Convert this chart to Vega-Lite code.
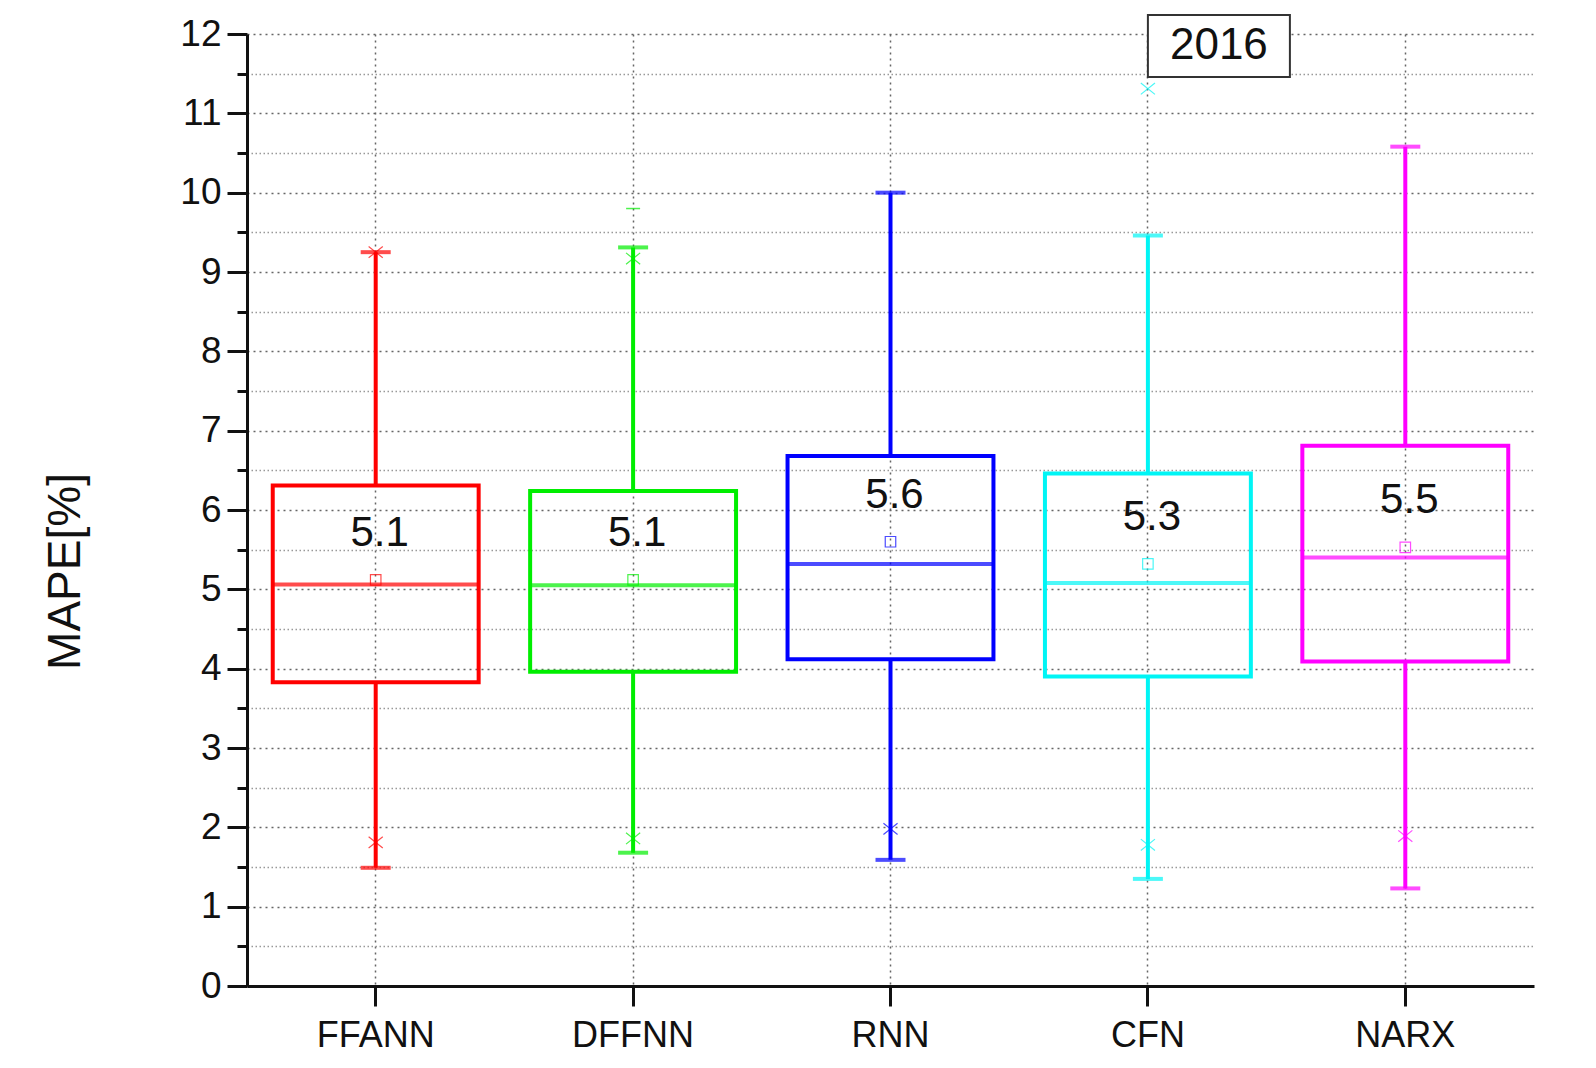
{
  "$schema": "https://vega.github.io/schema/vega-lite/v6.json",
  "autosize": "none",
  "padding": {"left": 247, "top": 34, "right": 62, "bottom": 82},
  "width": 1287,
  "height": 952,
  "background": "white",
  "config": {
    "view": {"stroke": null},
    "font": "Liberation Sans",
    "axis": {"labelFont": "Liberation Sans", "titleFont": "Liberation Sans", "labelColor": "#111", "titleColor": "#111"}
  },
  "datasets": {
    "stats": [
      {"model": "FFANN", "lo": 1.49, "q1": 3.83, "med": 5.06, "q3": 6.31, "hi": 9.25, "mean": 5.12, "p1": 1.81, "p99": 9.25, "max": null},
      {"model": "DFFNN", "lo": 1.68, "q1": 3.96, "med": 5.05, "q3": 6.24, "hi": 9.31, "mean": 5.12, "p1": 1.86, "p99": 9.17, "max": 9.8},
      {"model": "RNN", "lo": 1.59, "q1": 4.12, "med": 5.32, "q3": 6.68, "hi": 10.0, "mean": 5.6, "p1": 1.98, "p99": null, "max": null},
      {"model": "CFN", "lo": 1.35, "q1": 3.9, "med": 5.08, "q3": 6.46, "hi": 9.46, "mean": 5.32, "p1": 1.78, "p99": 11.31, "max": null},
      {"model": "NARX", "lo": 1.23, "q1": 4.09, "med": 5.4, "q3": 6.81, "hi": 10.58, "mean": 5.53, "p1": 1.89, "p99": null, "max": null}
    ],
    "note": [
      {"model": "CFN", "y": 11.85, "label": "2016"}
    ]
  },
  "data": {"name": "stats"},
  "encoding": {
    "x": {
      "field": "model", "type": "nominal", "sort": null,
      "scale": {"paddingInner": 0, "paddingOuter": 0},
      "axis": {
        "title": null, "labelAngle": 0, "labelFontSize": 36, "labelPadding": 12,
        "tickSize": 20, "tickWidth": 3, "tickColor": "#111",
        "domainWidth": 3, "domainColor": "#111",
        "grid": true, "gridDash": [2, 4], "gridColor": "#666", "gridWidth": 1.5
      }
    },
    "color": {
      "field": "model", "type": "nominal", "legend": null,
      "scale": {"domain": ["FFANN", "DFFNN", "RNN", "CFN", "NARX"], "range": ["#ff0000", "#00ee00", "#0000ff", "#00f5f5", "#ff00ff"]}
    }
  },
  "layer": [
    {
      "mark": {"type": "rule", "strokeWidth": 4},
      "encoding": {
        "y": {
          "field": "lo", "type": "quantitative", "title": "MAPE[%]",
          "scale": {"domain": [0, 12], "nice": false, "zero": true},
          "axis": {
            "values": [0, 0.5, 1, 1.5, 2, 2.5, 3, 3.5, 4, 4.5, 5, 5.5, 6, 6.5, 7, 7.5, 8, 8.5, 9, 9.5, 10, 10.5, 11, 11.5, 12],
            "tickCount": 100,
            "labelExpr": "datum.value % 1 === 0 ? format(datum.value, 'd') : ''",
            "labelOverlap": false,
            "labelFontSize": 37, "labelPadding": 6,
            "tickSize": {"condition": {"test": "datum.value % 1 === 0", "value": 20}, "value": 10},
            "tickWidth": 3, "tickColor": "#111",
            "domainWidth": 3, "domainColor": "#111",
            "grid": true,
            "gridDash": {"condition": {"test": "datum.value % 1 === 0", "value": [2, 4]}, "value": [1.5, 2.5]},
            "gridColor": {"condition": {"test": "datum.value % 1 === 0", "value": "#666"}, "value": "#999"},
            "gridWidth": 1.5,
            "titleFontSize": 46, "titleFontWeight": "normal", "titlePadding": 90, "titleY": 537
          }
        },
        "y2": {"field": "q1"}
      }
    },
    {
      "mark": {"type": "rule", "strokeWidth": 4},
      "encoding": {
        "y": {"field": "q3", "type": "quantitative", "title": "MAPE[%]"},
        "y2": {"field": "hi"}
      }
    },
    {
      "mark": {"type": "tick", "size": 30, "thickness": 4},
      "encoding": {"y": {"field": "lo", "type": "quantitative", "title": "MAPE[%]"}}
    },
    {
      "mark": {"type": "tick", "size": 30, "thickness": 4},
      "encoding": {"y": {"field": "hi", "type": "quantitative", "title": "MAPE[%]"}}
    },
    {
      "mark": {"type": "bar", "width": {"band": 0.8}, "fill": null, "fillOpacity": 0, "strokeWidth": 4},
      "encoding": {
        "y": {"field": "q1", "type": "quantitative", "title": "MAPE[%]"},
        "y2": {"field": "q3"},
        "stroke": {"field": "model", "type": "nominal", "legend": null, "scale": {"domain": ["FFANN", "DFFNN", "RNN", "CFN", "NARX"], "range": ["#ff0000", "#00ee00", "#0000ff", "#00f5f5", "#ff00ff"]}}
      }
    },
    {
      "mark": {"type": "tick", "size": 206, "thickness": 4},
      "encoding": {"y": {"field": "med", "type": "quantitative", "title": "MAPE[%]"}}
    },
    {
      "mark": {"type": "point", "shape": "square", "size": 110, "filled": false, "strokeWidth": 1.2},
      "encoding": {"y": {"field": "mean", "type": "quantitative", "title": "MAPE[%]"}}
    },
    {
      "mark": {"type": "point", "shape": "M-1,-0.8L1,0.8M-1,0.8L1,-0.8", "size": 200, "filled": false, "strokeWidth": 1.2},
      "encoding": {"y": {"field": "p1", "type": "quantitative", "title": "MAPE[%]"}}
    },
    {
      "mark": {"type": "point", "shape": "M-1,-0.8L1,0.8M-1,0.8L1,-0.8", "size": 200, "filled": false, "strokeWidth": 1.2},
      "encoding": {"y": {"field": "p99", "type": "quantitative", "title": "MAPE[%]"}}
    },
    {
      "mark": {"type": "tick", "size": 14, "thickness": 1.5},
      "encoding": {"y": {"field": "max", "type": "quantitative", "title": "MAPE[%]"}}
    },
    {
      "mark": {"type": "text", "fontSize": 42, "dy": -47, "dx": 4, "baseline": "middle", "align": "center", "color": "#111"},
      "encoding": {
        "y": {"field": "mean", "type": "quantitative", "title": "MAPE[%]"},
        "text": {"field": "mean", "type": "quantitative", "format": ".1f"},
        "color": {"value": "#111"}
      }
    },
    {
      "data": {"name": "note"},
      "mark": {"type": "point", "shape": "M0,-0.4366L2,-0.4366L2,0.4366L0,0.4366Z", "size": 20164, "filled": true, "fill": "white", "stroke": "#333", "strokeWidth": 2, "opacity": 1, "clip": false},
      "encoding": {
        "y": {"field": "y", "type": "quantitative", "title": "MAPE[%]"},
        "color": {"value": "#333"},
        "fill": {"value": "white"}
      }
    },
    {
      "data": {"name": "note"},
      "mark": {"type": "text", "fontSize": 44, "dx": 71, "baseline": "middle", "align": "center"},
      "encoding": {
        "y": {"field": "y", "type": "quantitative", "title": "MAPE[%]"},
        "text": {"field": "label"},
        "color": {"value": "#111"}
      }
    }
  ]
}
